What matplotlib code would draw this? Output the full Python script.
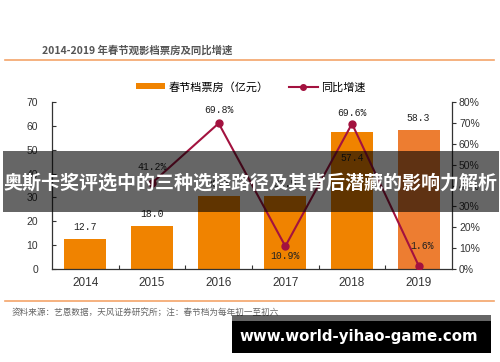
import matplotlib
matplotlib.use("Agg")
import matplotlib.pyplot as plt
from matplotlib.patches import Rectangle
from matplotlib.lines import Line2D
from matplotlib.patches import Patch

plt.rcParams['font.family'] = ['Liberation Sans', 'Noto Sans CJK SC', 'DejaVu Sans']

years = ["2014", "2015", "2016", "2017", "2018", "2019"]
box_office = [12.7, 18.0, 30.5, 30.6, 57.4, 58.3]
box_labels = ["12.7", "18.0", "30.5", "33.5", "57.4", "58.3"]
growth_years = ["2015", "2016", "2017", "2018", "2019"]
growth = [41.2, 69.8, 10.9, 69.6, 1.6]
left_ticks = [0, 10, 20, 30, 40, 50, 60, 70]
right_ticks = [0, 10, 20, 30, 40, 50, 60, 70, 80]

title = "2014-2019 年春节观影档票房及同比增速"
legend_bar = "春节档票房（亿元）"
legend_line = "同比增速"
source = "资料来源：艺恩数据，天风证券研究所；注：春节档为每年初一至初六"
banner = "奥斯卡奖评选中的三种选择路径及其背后潜藏的影响力解析"
watermark = "www.world-yihao-game.com"

BAR = "#F08300"
BAR_LAST = "#ED7D31"
LINE = "#A3123F"
CJK = ['Noto Sans CJK SC', 'DejaVu Sans']
W, H = 500, 362

fig = plt.figure(figsize=(5, 3.62), dpi=100)

def fx(px):
    return px / W

def fy(py):
    return 1 - py / H

ax = fig.add_axes([fx(52), fy(269), fx(452) - fx(52), fy(102) - fy(269)])
ax2 = ax.twinx()

x = list(range(len(years)))
colors = [BAR] * (len(years) - 1) + [BAR_LAST]
bars = ax.bar(x, box_office, width=0.63, color=colors, zorder=2)
ax.set_xlim(-0.5, len(years) - 0.5)
ax.set_ylim(0, 70)
ax.set_yticks(left_ticks)
ax.set_yticklabels([str(t) for t in left_ticks], fontsize=7.5, color="#333333")
ax.set_xticks([i + 0.5 for i in range(len(years) - 1)])
ax.set_xticklabels([])
ax.set_xticks(x, minor=True)
ax.set_xticklabels(years, minor=True, fontsize=8.5, color="#333333")
ax.tick_params(axis='x', which='major', direction='in', length=3, color="#333333")
ax.tick_params(axis='x', which='minor', length=0, pad=6)
ax.tick_params(axis='y', direction='in', length=3, color="#333333", pad=10)
for s in ['top', 'right']:
    ax.spines[s].set_visible(False)
for s in ['left', 'bottom']:
    ax.spines[s].set_color("#333333")
    ax.spines[s].set_linewidth(0.9)

# bar value labels
for i, (v, lab) in enumerate(zip(box_office, box_labels)):
    if years[i] == "2018":
        off = -26
    else:
        off = 7
    ax.annotate(lab, (i, v), xytext=(0, off * 0.72), textcoords='offset points',
                ha='center', va='bottom' if off > 0 else 'center',
                fontsize=7, family='Liberation Mono', color="#222222", zorder=5)

gx = [years.index(y) for y in growth_years]
ax2.plot(gx, growth, color=LINE, lw=1.5, marker='o', markersize=5, zorder=3)
ax2.set_ylim(0, 80)
ax2.set_yticks(right_ticks)
ax2.set_yticklabels([f"{t}%" for t in right_ticks], fontsize=7.5, color="#333333")
ax2.tick_params(axis='y', direction='out', length=3, color="#333333", pad=2)
for s in ['top', 'left', 'bottom']:
    ax2.spines[s].set_visible(False)
ax2.spines['right'].set_color("#333333")
ax2.spines['right'].set_linewidth(0.9)

gl_off = {"2015": (0, 16), "2016": (0, 13), "2017": (0, -10), "2018": (0, 11), "2019": (3, 20)}
for xi, yv, yr in zip(gx, growth, growth_years):
    dx, dy = gl_off[yr]
    ax2.annotate(f"{yv}%", (xi, yv), xytext=(dx * 0.72, dy * 0.72), textcoords='offset points',
                 ha='center', va='center', fontsize=7, family='Liberation Mono',
                 color="#222222", zorder=5)

# title and separator lines
fig.text(fx(42), fy(50), title, fontsize=7.5, color="#555555", family=CJK,
         fontweight='bold', va='center', ha='left')
fig.add_artist(Line2D([fx(5), fx(494)], [fy(60), fy(60)], color="#F3A46A", lw=1.2))
fig.add_artist(Line2D([fx(5), fx(494)], [fy(301), fy(301)], color="#F3A46A", lw=1.2))
fig.text(fx(12), fy(312), source, fontsize=6.2, color="#666666", family=CJK,
         va='center', ha='left')

# legend
handles = [Patch(facecolor=BAR, edgecolor='none'),
           Line2D([0], [0], color=LINE, lw=1.5, marker='o', markersize=4)]
leg = fig.legend(handles, [legend_bar, legend_line], loc='center',
                 bbox_to_anchor=(fx(251), fy(87)), ncol=2, frameon=False,
                 prop={'family': CJK, 'size': 8}, handlelength=2.6, handleheight=0.45,
                 handletextpad=0.3, columnspacing=1.8)

# overlay banner
fig.add_artist(Rectangle((fx(3), fy(212)), fx(496), fy(151) - fy(212),
                         transform=fig.transFigure, facecolor='black', alpha=0.6,
                         edgecolor='none', zorder=10))
fig.text(fx(250), fy(183), banner, fontsize=13.7, color='white', family=CJK,
         fontweight='bold', ha='center', va='center', zorder=11)

# watermark
fig.add_artist(Rectangle((fx(232), fy(353)), fx(491) - fx(232), fy(315) - fy(353),
                         transform=fig.transFigure, facecolor='black', alpha=0.6,
                         edgecolor='none', zorder=10))
fig.add_artist(Rectangle((fx(232), fy(353)), fx(491) - fx(232), fy(321) - fy(353),
                         transform=fig.transFigure, facecolor='black',
                         edgecolor='none', zorder=10))
fig.text(fx(359), fy(337), watermark, fontsize=10.8, color='white', family='DejaVu Sans',
         fontweight='bold', ha='center', va='center', zorder=11)

fig.savefig("out.png", dpi=100)
